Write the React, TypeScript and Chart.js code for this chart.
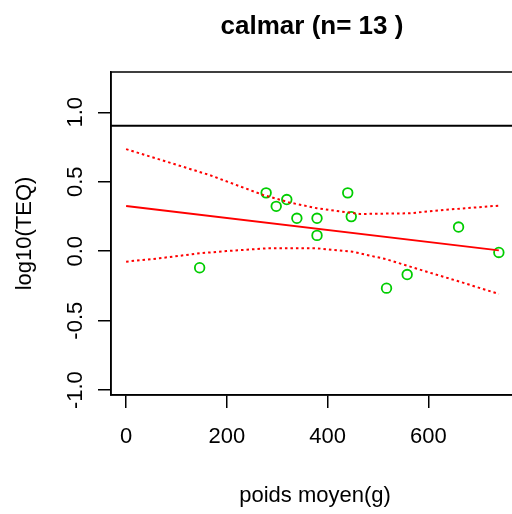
import React, { useEffect, useRef } from "react";
import { Chart, registerables } from "chart.js";

Chart.register(...registerables);

const TITLE = "calmar (n= 13 )";
const X_LABEL = "poids moyen(g)";
const Y_LABEL = "log10(TEQ)";
const X_TICKS = [0, 200, 400, 600];
const Y_TICKS = [-1, -0.5, 0, 0.5, 1];
const Y_TICK_LABELS = ["-1.0", "-0.5", "0.0", "0.5", "1.0"];
const X_RANGE = [-30, 780];
const Y_RANGE = [-1.035, 1.29];

const WEIGHT = [146, 278, 298, 319, 339, 379, 379, 440, 447, 517, 558, 660, 740];
const LOG_TEQ = [-0.119, 0.42, 0.323, 0.372, 0.237, 0.237, 0.114, 0.42, 0.249, -0.266, -0.168, 0.174, -0.009];

const LIMIT = 0.903;

const FIT_X = [0, 740];
const FIT_Y = [0.326, 0.006];

const UPPER_X = [0, 166, 272, 325, 379, 464, 563, 630, 740];
const UPPER_Y = [0.735, 0.548, 0.405, 0.35, 0.309, 0.268, 0.273, 0.297, 0.328];

const LOWER_X = [0, 66, 146, 199, 279, 379, 450, 517, 597, 663, 740];
const LOWER_Y = [-0.075, -0.051, -0.015, 0.001, 0.021, 0.021, -0.004, -0.058, -0.148, -0.22, -0.308];

const FONT = "'Liberation Sans', Arial, Helvetica, sans-serif";
const RED = "#FF0000";
const GREEN = "#00CD00";

const zip = (xs: number[], ys: number[]) => xs.map((x, i) => ({ x, y: ys[i] }));

const framePlugin = {
  id: "frame",
  afterDatasetsDraw(chart: any) {
    const { ctx, chartArea } = chart;
    ctx.save();
    ctx.strokeStyle = "#000";
    ctx.lineWidth = 1.5;
    ctx.strokeRect(chartArea.left, chartArea.top, chartArea.right - chartArea.left, chartArea.bottom - chartArea.top);
    ctx.restore();
  },
  afterDraw(chart: any) {
    const { ctx, chartArea } = chart;
    const yScale = chart.scales.y;
    ctx.save();
    ctx.fillStyle = "#000";
    ctx.font = `bold 26px ${FONT}`;
    ctx.textAlign = "center";
    ctx.textBaseline = "middle";
    ctx.fillText(TITLE, (chartArea.left + chartArea.right) / 2 - 3, 27);
    ctx.font = `22px ${FONT}`;
    Y_TICKS.forEach((v, i) => {
      const py = yScale.getPixelForValue(v);
      ctx.save();
      ctx.translate(76, py);
      ctx.rotate(-Math.PI / 2);
      ctx.fillText(Y_TICK_LABELS[i], 0, 0);
      ctx.restore();
    });
    ctx.restore();
  },
};

export default function App() {
  const ref = useRef<HTMLCanvasElement | null>(null);

  useEffect(() => {
    if (!ref.current) return;
    Chart.defaults.font.family = FONT;
    const chart = new Chart(ref.current, {
      type: "scatter",
      data: {
        datasets: [
          {
            label: "limit",
            data: [
              { x: X_RANGE[0], y: LIMIT },
              { x: X_RANGE[1], y: LIMIT },
            ],
            showLine: true,
            borderColor: "#000",
            borderWidth: 2,
            pointRadius: 0,
          },
          {
            label: "fit",
            data: zip(FIT_X, FIT_Y),
            showLine: true,
            borderColor: RED,
            borderWidth: 2,
            pointRadius: 0,
          },
          {
            label: "upper",
            data: zip(UPPER_X, UPPER_Y),
            showLine: true,
            borderColor: RED,
            borderWidth: 2,
            borderDash: [2.5, 3],
            pointRadius: 0,
          },
          {
            label: "lower",
            data: zip(LOWER_X, LOWER_Y),
            showLine: true,
            borderColor: RED,
            borderWidth: 2,
            borderDash: [2.5, 3],
            pointRadius: 0,
          },
          {
            label: "points",
            data: zip(WEIGHT, LOG_TEQ),
            showLine: false,
            pointStyle: "circle",
            pointRadius: 4.8,
            pointBorderWidth: 1.8,
            pointBorderColor: GREEN,
            pointBackgroundColor: "rgba(0,0,0,0)",
            borderColor: GREEN,
            backgroundColor: "rgba(0,0,0,0)",
          },
        ],
      },
      options: {
        animation: false,
        responsive: false,
        devicePixelRatio: 1,
        layout: { padding: { top: 72, right: 11, left: 0, bottom: 0 } },
        plugins: {
          legend: { display: false },
          tooltip: { enabled: false },
          title: { display: false },
        },
        scales: {
          x: {
            type: "linear",
            position: "bottom",
            min: X_RANGE[0],
            max: X_RANGE[1],
            afterBuildTicks: (s: any) => {
              s.ticks = X_TICKS.map((v) => ({ value: v }));
            },
            afterFit: (s: any) => {
              s.height = 119;
            },
            grid: {
              drawOnChartArea: false,
              drawTicks: true,
              tickLength: 13,
              color: "#000",
              lineWidth: 1.5,
            },
            border: { display: true, color: "#000", width: 1.5 },
            ticks: {
              color: "#000",
              font: { size: 22, family: FONT },
              padding: 16,
              maxRotation: 0,
              minRotation: 0,
              callback: (v: any) => String(v),
            },
            title: {
              display: true,
              text: X_LABEL,
              color: "#000",
              font: { size: 22, family: FONT },
              padding: { top: 0, bottom: 5 },
            },
          },
          y: {
            type: "linear",
            position: "left",
            min: Y_RANGE[0],
            max: Y_RANGE[1],
            afterBuildTicks: (s: any) => {
              s.ticks = Y_TICKS.map((v) => ({ value: v }));
            },
            afterFit: (s: any) => {
              s.width = 111;
            },
            grid: {
              drawOnChartArea: false,
              drawTicks: true,
              tickLength: 13,
              color: "#000",
              lineWidth: 1.5,
            },
            border: { display: true, color: "#000", width: 1.5 },
            ticks: { display: false },
            title: {
              display: true,
              text: Y_LABEL,
              color: "#000",
              font: { size: 22, family: FONT },
              padding: { top: 12, bottom: 0 },
            },
          },
        },
      },
      plugins: [framePlugin],
    });
    return () => chart.destroy();
  }, []);

  return (
    <div
      style={{
        position: "absolute",
        left: 0,
        top: 0,
        width: 512,
        height: 514,
        overflow: "hidden",
        background: "#fff",
      }}
    >
      <canvas ref={ref} width={530} height={514} style={{ display: "block" }} />
    </div>
  );
}
